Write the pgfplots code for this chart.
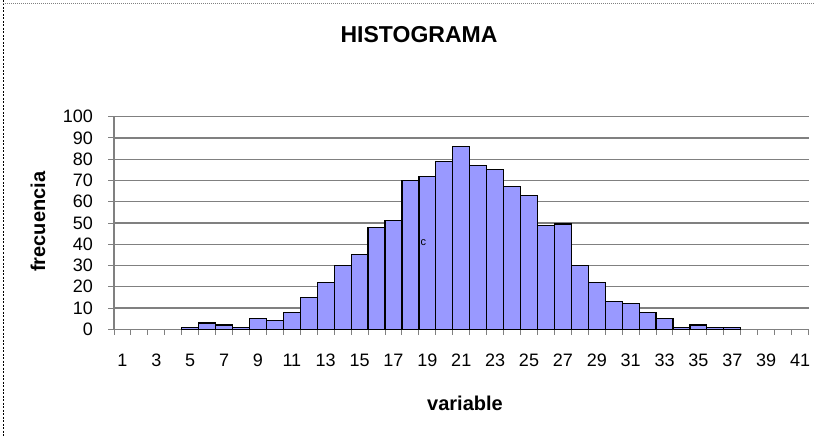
\documentclass[border=0pt]{standalone}
\usepackage{fontspec}
\setmainfont{Liberation Sans}
\usepackage{pgfplots}
\pgfplotsset{compat=1.18}
\definecolor{barfill}{HTML}{9999FF}
\definecolor{gridc}{HTML}{808080}
\begin{document}
\begin{tikzpicture}[x=1pt,y=1pt]
\useasboundingbox (0,0) rectangle (814,437);
\draw[black, dash pattern=on 2pt off 1.5pt, line width=0.8pt] (3,437) -- (3,0);
\draw[gridc, dash pattern=on 1pt off 1pt, line width=0.8pt] (3,434) -- (814,434);
\begin{axis}[
  at={(114pt,107.7pt)}, anchor=south west,
  scale only axis, width=694.5pt, height=212.6pt,
  xmin=0.5, xmax=41.5, ymin=0, ymax=100,
  axis x line*=bottom, axis y line*=left,
  axis line style={gridc, line width=1.2pt},
  ymajorgrids, grid style={gridc, line width=1.2pt},
  ytick={0,10,...,100},
  xtick={0.5,1.5,...,41.5},
  xticklabels={1,,3,,5,,7,,9,,11,,13,,15,,17,,19,,21,,23,,25,,27,,29,,31,,33,,35,,37,,39,,41,},
  tick align=outside,
  tick style={gridc, line width=1pt},
  major tick length=5.5pt,
  /pgf/number format/assume math mode=true,
  ticklabel style={font=\fontsize{18}{18}\selectfont},
  xticklabel style={yshift=-16pt, xshift=8.47pt},
  yticklabel style={xshift=-12pt},
]
\addplot[ybar, bar width=1, fill=barfill, draw=black, line width=1.2pt] coordinates {
(5,1) (6,3) (7,2) (8,1) (9,5) (10,4) (11,8) (12,15) (13,22) (14,30)
(15,35) (16,48) (17,51) (18,70) (19,72) (20,79) (21,86) (22,77) (23,75) (24,67)
(25,63) (26,49) (27,49.5) (28,30) (29,22) (30,13) (31,12) (32,8) (33,5) (34,1)
(35,2) (36,1) (37,1)
};
\node[font=\fontsize{11}{11}\selectfont] at (axis cs:18.76,41) {c};
\end{axis}
\node[anchor=base, font=\bfseries\fontsize{23}{23}\selectfont] at (419,394.7) {HISTOGRAMA};
\node[anchor=base, font=\bfseries\fontsize{20}{20}\selectfont] at (465,27) {variable};
\node[rotate=90, anchor=base, font=\bfseries\fontsize{20}{20}\selectfont] at (45,215.3) {frecuencia};
\end{tikzpicture}
\end{document}
